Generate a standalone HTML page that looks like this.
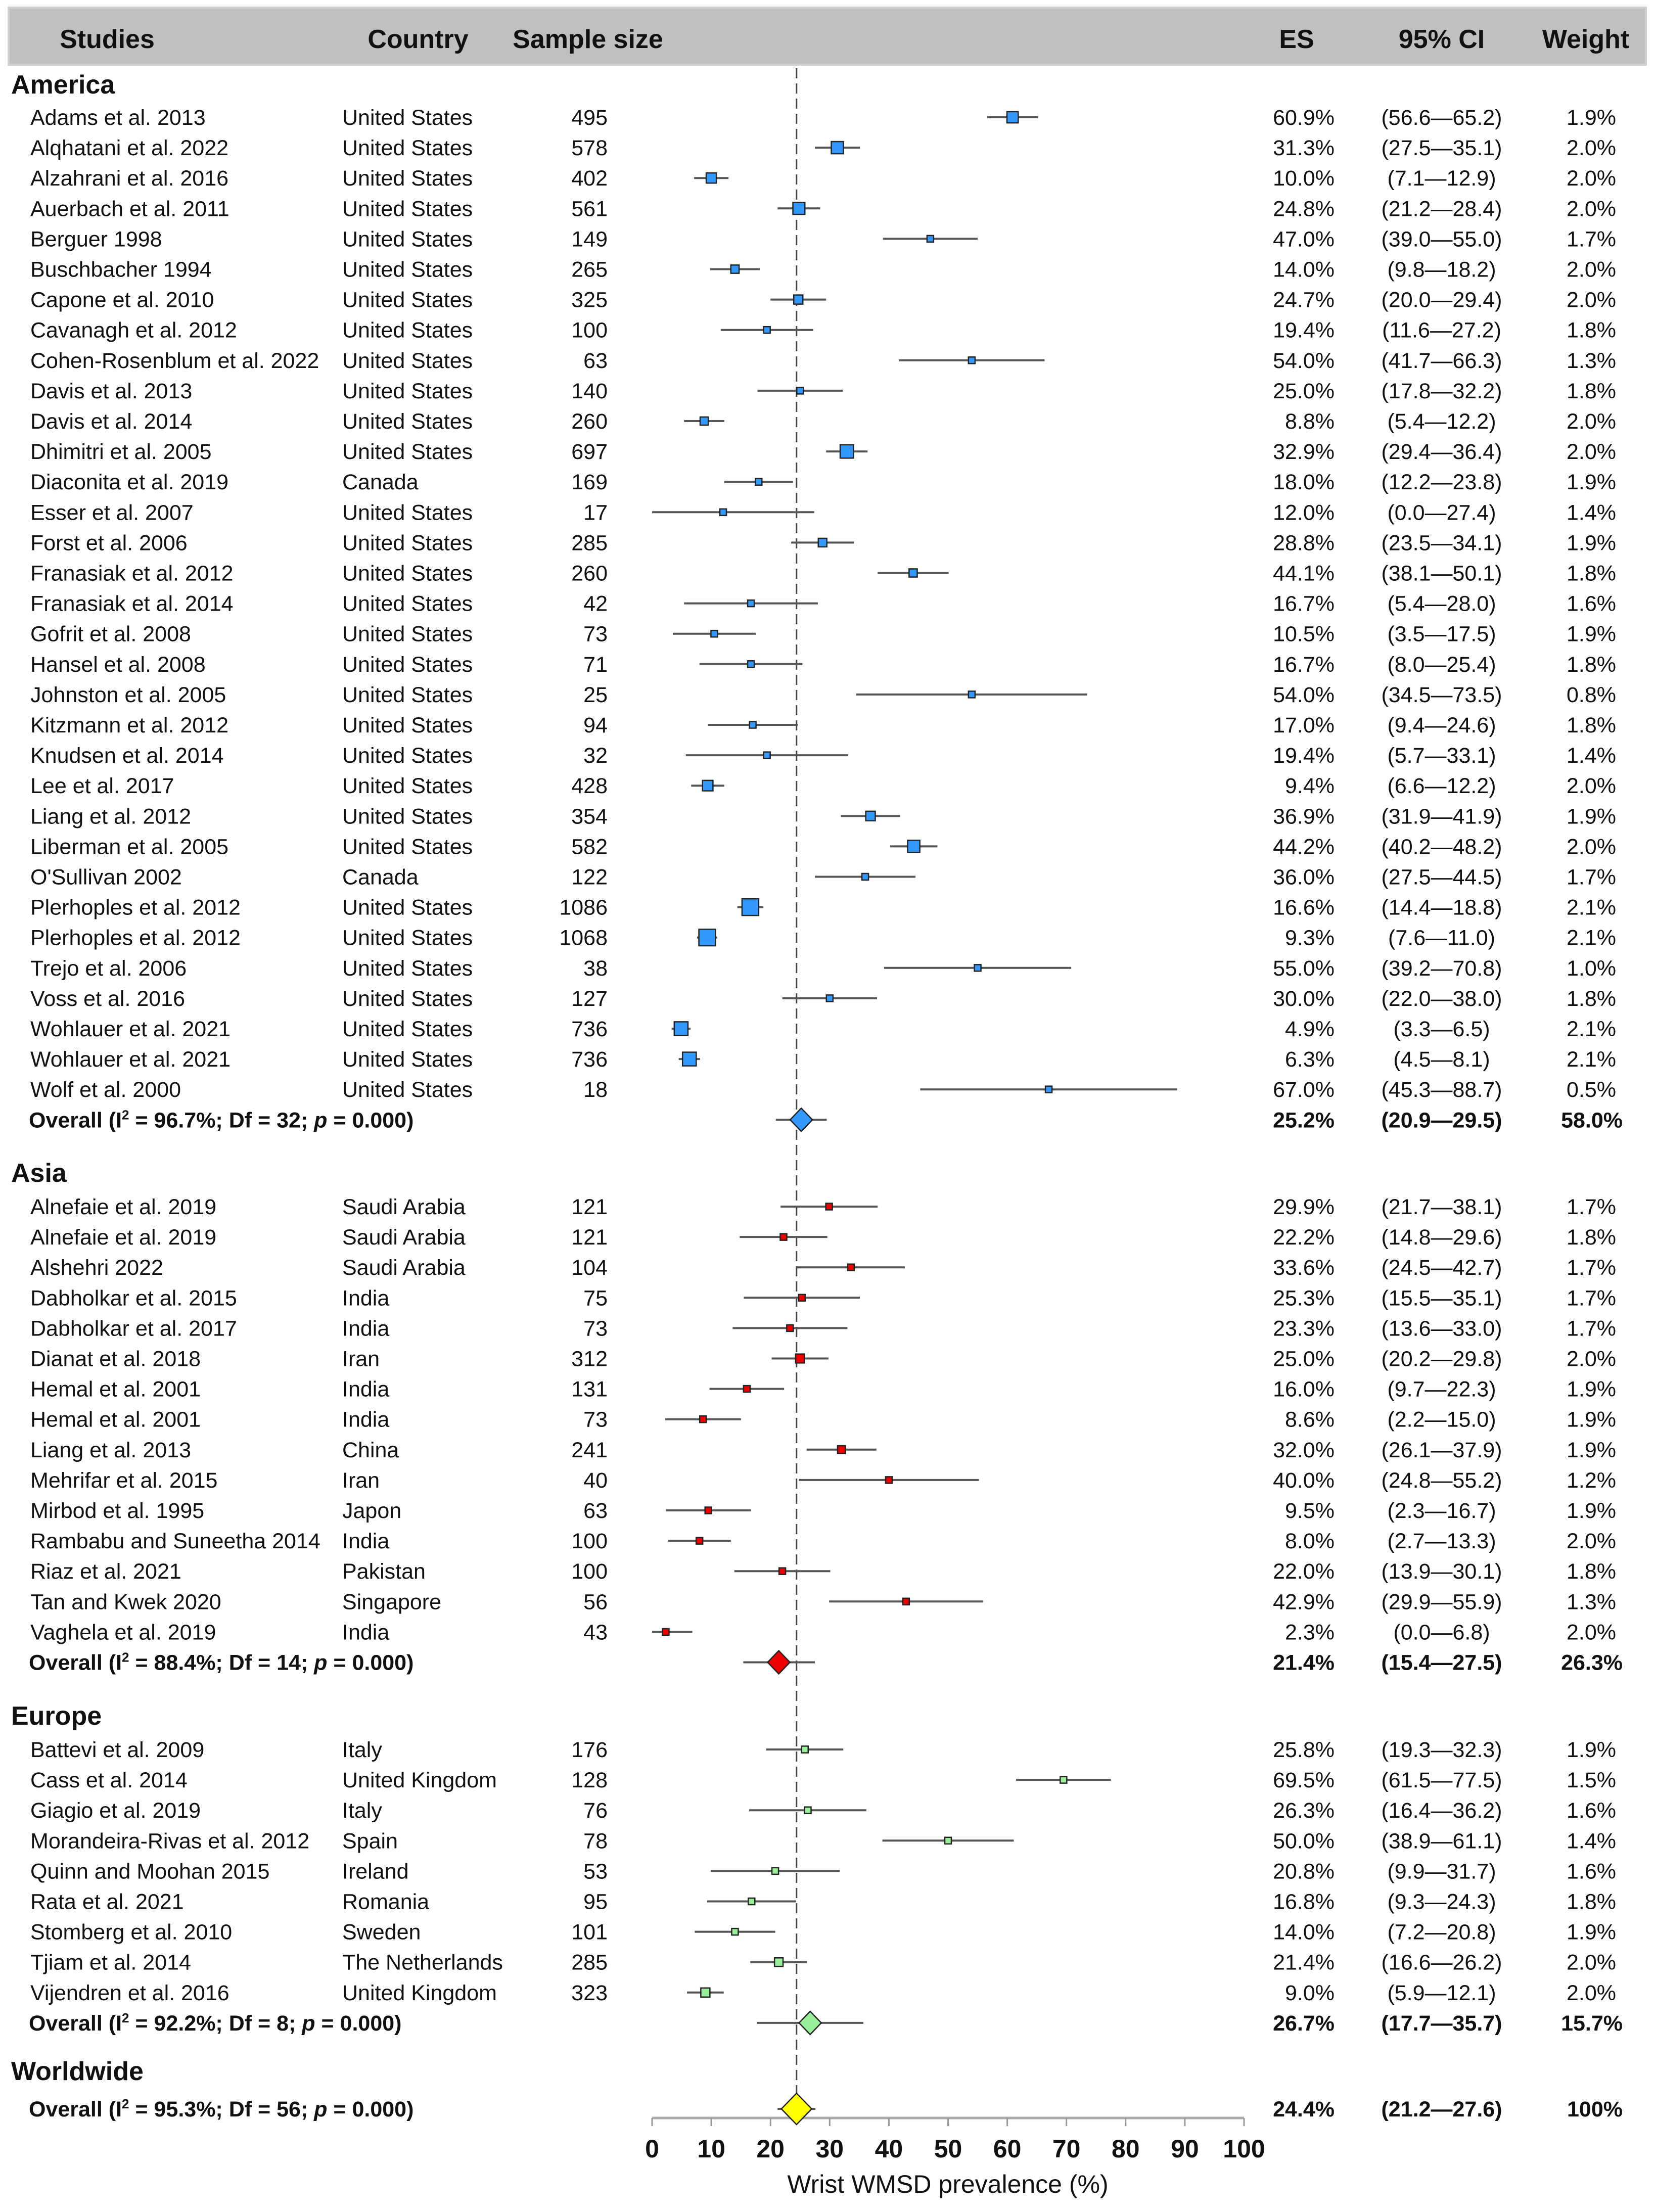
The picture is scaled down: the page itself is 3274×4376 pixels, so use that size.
<!DOCTYPE html>
<html><head><meta charset="utf-8"><style>
html,body{margin:0;padding:0;background:#fff}
svg{display:block}
text{font-family:"Liberation Sans",sans-serif;fill:#111}
</style></head><body>
<svg id="chart" xmlns="http://www.w3.org/2000/svg" width="3274" height="4376" viewBox="0 0 3274 4376">
<rect x="17" y="15" width="3239" height="113" fill="#c0c0c0" stroke="#d0d0d0" stroke-width="4"/>
<g font-weight="bold" font-size="52">
<text x="212" y="95" text-anchor="middle">Studies</text>
<text x="827" y="95" text-anchor="middle">Country</text>
<text x="1163" y="95" text-anchor="middle">Sample size</text>
<text x="2565" y="95" text-anchor="middle">ES</text>
<text x="2852" y="95" text-anchor="middle">95% CI</text>
<text x="3137" y="95" text-anchor="middle">Weight</text>
</g>
<g id="plot"></g>
</svg>
<script>
const americaStudies=["Adams et al. 2013","Alqhatani et al. 2022","Alzahrani et al. 2016","Auerbach et al. 2011","Berguer 1998","Buschbacher 1994","Capone et al. 2010","Cavanagh et al. 2012","Cohen-Rosenblum et al. 2022","Davis et al. 2013","Davis et al. 2014","Dhimitri et al. 2005","Diaconita et al. 2019","Esser et al. 2007","Forst et al. 2006","Franasiak et al. 2012","Franasiak et al. 2014","Gofrit et al. 2008","Hansel et al. 2008","Johnston et al. 2005","Kitzmann et al. 2012","Knudsen et al. 2014","Lee et al. 2017","Liang et al. 2012","Liberman et al. 2005","O'Sullivan 2002","Plerhoples et al. 2012","Plerhoples et al. 2012","Trejo et al. 2006","Voss et al. 2016","Wohlauer et al. 2021","Wohlauer et al. 2021","Wolf et al. 2000"];
const americaCountry=["United States","United States","United States","United States","United States","United States","United States","United States","United States","United States","United States","United States","Canada","United States","United States","United States","United States","United States","United States","United States","United States","United States","United States","United States","United States","Canada","United States","United States","United States","United States","United States","United States","United States"];
const americaN=[495,578,402,561,149,265,325,100,63,140,260,697,169,17,285,260,42,73,71,25,94,32,428,354,582,122,1086,1068,38,127,736,736,18];
const americaES=[60.9,31.3,10.0,24.8,47.0,14.0,24.7,19.4,54.0,25.0,8.8,32.9,18.0,12.0,28.8,44.1,16.7,10.5,16.7,54.0,17.0,19.4,9.4,36.9,44.2,36.0,16.6,9.3,55.0,30.0,4.9,6.3,67.0];
const americaLo=[56.6,27.5,7.1,21.2,39.0,9.8,20.0,11.6,41.7,17.8,5.4,29.4,12.2,0.0,23.5,38.1,5.4,3.5,8.0,34.5,9.4,5.7,6.6,31.9,40.2,27.5,14.4,7.6,39.2,22.0,3.3,4.5,45.3];
const americaHi=[65.2,35.1,12.9,28.4,55.0,18.2,29.4,27.2,66.3,32.2,12.2,36.4,23.8,27.4,34.1,50.1,28.0,17.5,25.4,73.5,24.6,33.1,12.2,41.9,48.2,44.5,18.8,11.0,70.8,38.0,6.5,8.1,88.7];
const americaW=[1.9,2.0,2.0,2.0,1.7,2.0,2.0,1.8,1.3,1.8,2.0,2.0,1.9,1.4,1.9,1.8,1.6,1.9,1.8,0.8,1.8,1.4,2.0,1.9,2.0,1.7,2.1,2.1,1.0,1.8,2.1,2.1,0.5];
const americaOverall=[25.2,20.9,29.5,58.0];

const asiaStudies=["Alnefaie et al. 2019","Alnefaie et al. 2019","Alshehri 2022","Dabholkar et al. 2015","Dabholkar et al. 2017","Dianat et al. 2018","Hemal et al. 2001","Hemal et al. 2001","Liang et al. 2013","Mehrifar et al. 2015","Mirbod et al. 1995","Rambabu and Suneetha 2014","Riaz et al. 2021","Tan and Kwek 2020","Vaghela et al. 2019"];
const asiaCountry=["Saudi Arabia","Saudi Arabia","Saudi Arabia","India","India","Iran","India","India","China","Iran","Japon","India","Pakistan","Singapore","India"];
const asiaN=[121,121,104,75,73,312,131,73,241,40,63,100,100,56,43];
const asiaES=[29.9,22.2,33.6,25.3,23.3,25.0,16.0,8.6,32.0,40.0,9.5,8.0,22.0,42.9,2.3];
const asiaLo=[21.7,14.8,24.5,15.5,13.6,20.2,9.7,2.2,26.1,24.8,2.3,2.7,13.9,29.9,0.0];
const asiaHi=[38.1,29.6,42.7,35.1,33.0,29.8,22.3,15.0,37.9,55.2,16.7,13.3,30.1,55.9,6.8];
const asiaW=[1.7,1.8,1.7,1.7,1.7,2.0,1.9,1.9,1.9,1.2,1.9,2.0,1.8,1.3,2.0];
const asiaOverall=[21.4,15.4,27.5,26.3];

const europeStudies=["Battevi et al. 2009","Cass et al. 2014","Giagio et al. 2019","Morandeira-Rivas et al. 2012","Quinn and Moohan 2015","Rata et al. 2021","Stomberg et al. 2010","Tjiam et al. 2014","Vijendren et al. 2016"];
const europeCountry=["Italy","United Kingdom","Italy","Spain","Ireland","Romania","Sweden","The Netherlands","United Kingdom"];
const europeN=[176,128,76,78,53,95,101,285,323];
const europeES=[25.8,69.5,26.3,50.0,20.8,16.8,14.0,21.4,9.0];
const europeLo=[19.3,61.5,16.4,38.9,9.9,9.3,7.2,16.6,5.9];
const europeHi=[32.3,77.5,36.2,61.1,31.7,24.3,20.8,26.2,12.1];
const europeW=[1.9,1.5,1.6,1.4,1.6,1.8,1.9,2.0,2.0];
const europeOverall=[26.7,17.7,35.7,15.7];

const worldOverall=[24.4,21.2,27.6,100];
const xTicks=[0,10,20,30,40,50,60,70,80,90,100];

const NS="http://www.w3.org/2000/svg";
const g=document.getElementById('plot');
const X0=1290,X1=2461;
function xs(v){return X0+(X1-X0)*v/100;}
function mk(tag,attrs,parent){const e=document.createElementNS(NS,tag);for(const k in attrs)e.setAttribute(k,attrs[k]);(parent||g).appendChild(e);return e;}
function txt(s,x,y,opts,parent){const e=mk('text',Object.assign({x:x,y:y,'font-size':43},opts||{}),parent);e.textContent=s;return e;}
function fmtCI(lo,hi){return '('+lo.toFixed(1)+'\u2014'+hi.toFixed(1)+')';}

const STEP=60.1;
const AXIS_Y=4190;
const ref=mk('line',{x1:xs(worldOverall[0]),x2:xs(worldOverall[0]),y1:135,y2:AXIS_Y,stroke:'#444','stroke-width':3,'stroke-dasharray':'20 10'});



function studyRow(name,country,n,es,lo,hi,w,y,fill,key){
  const grp=mk('g',{});
  
  
  const b=y+15;
  const t1=txt(name,60,b,{},grp);
  
  
  const t2=txt(country,677,b,{},grp);
  
  
  const t3=txt(String(n),1202,b,{'text-anchor':'end'},grp);
  
  
  const t4=txt(es.toFixed(1)+'%',2640,b,{'text-anchor':'end'},grp);
  
  
  const t5=txt(fmtCI(lo,hi),2852,b,{'text-anchor':'middle'},grp);
  
  
  const t6=txt(w.toFixed(1)+'%',3197,b,{'text-anchor':'end'},grp);
  
  
  const ln=mk('line',{x1:xs(lo),x2:xs(hi),y1:y,y2:y,stroke:'#555','stroke-width':4},grp);
  
  
  const s=Math.max(13,Math.sqrt(n));
  const sq=mk('rect',{x:xs(es)-s/2,y:y-s/2,width:s,height:s,fill:fill,stroke:'#222','stroke-width':2.5},grp);
  
  
}
function overallRow(label,ov,y,fill,key,dw,dh){
  const grp=mk('g',{});
  
  
  const b=y+15;
  const t1=mk('text',{x:57,y:b,'font-size':43,'font-weight':'bold'},grp);
  
  
  t1.innerHTML=label;
  const t4=txt(ov[0].toFixed(1)+'%',2640,b,{'text-anchor':'end','font-weight':'bold'},grp);
  
  
  const t5=txt(fmtCI(ov[1],ov[2]),2852,b,{'text-anchor':'middle','font-weight':'bold'},grp);
  
  
  const t6=txt((ov[3]===100?'100':ov[3].toFixed(1))+'%',3210,b,{'text-anchor':'end','font-weight':'bold'},grp);
  
  
  const ln=mk('line',{x1:xs(ov[1]),x2:xs(ov[2]),y1:y,y2:y,stroke:'#555','stroke-width':4},grp);
  
  
  const cx=xs(ov[0]);
  const d=mk('polygon',{points:(cx-dw/2)+','+y+' '+cx+','+(y-dh/2)+' '+(cx+dw/2)+','+y+' '+cx+','+(y+dh/2),fill:fill,stroke:'#222','stroke-width':2.5},grp);
  
  
}
function region(title,y){
  const t=txt(title,22,y+18,{'font-size':52,'font-weight':'bold'});
  
  
}
function section(key,title,titleY,startY,studies,country,n,es,lo,hi,w,ov,fill,I2,df){
  region(title,titleY);
  for(let i=0;i<studies.length;i++){
    studyRow(studies[i],country[i],n[i],es[i],lo[i],hi[i],w[i],startY+i*STEP,fill,key+'-'+(i+1));
  }
  overallRow('Overall (I<tspan font-size="26" dy="-16">2</tspan><tspan dy="16"> = '+I2+'%; Df = '+df+'; </tspan><tspan font-style="italic">p</tspan> = 0.000)',ov,startY+studies.length*STEP,fill,key,44,46);
}
section('america','America',167,232,americaStudies,americaCountry,americaN,americaES,americaLo,americaHi,americaW,americaOverall,'#3399ff','96.7',32);
section('asia','Asia',2320,2387,asiaStudies,asiaCountry,asiaN,asiaES,asiaLo,asiaHi,asiaW,asiaOverall,'#ee0000','88.4',14);
section('europe','Europe',3394,3461,europeStudies,europeCountry,europeN,europeES,europeLo,europeHi,europeW,europeOverall,'#99ee99','92.2',8);
region('Worldwide',4097);

const ax=mk('line',{x1:X0,x2:X1,y1:AXIS_Y,y2:AXIS_Y,stroke:'#aaa','stroke-width':5});


xTicks.forEach(v=>{
  const tk=mk('line',{x1:xs(v),x2:xs(v),y1:AXIS_Y,y2:AXIS_Y+16,stroke:'#999','stroke-width':3});
  
  
  const tl=txt(String(v),xs(v),4268,{'text-anchor':'middle','font-size':50,'font-weight':'bold'});
  
  
});
overallRow('Overall (I<tspan font-size="26" dy="-16">2</tspan><tspan dy="16"> = 95.3%; Df = 56; </tspan><tspan font-style="italic">p</tspan> = 0.000)',worldOverall,4172,'#ffff00','worldwide',60,62);
const at=txt('Wrist WMSD prevalence (%)',1875,4338,{'text-anchor':'middle','font-size':50,fill:'#333'});


</script>
</body></html>
